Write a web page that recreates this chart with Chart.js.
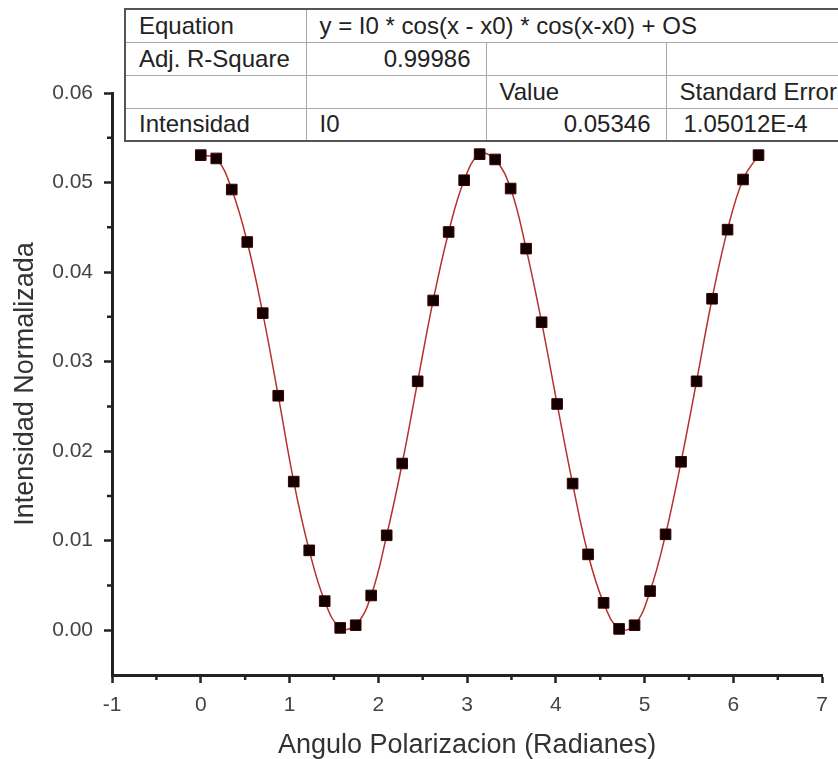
<!DOCTYPE html>
<html>
<head>
<meta charset="utf-8">
<script src="https://cdn.jsdelivr.net/npm/chart.js@4.4.1/dist/chart.umd.min.js"></script>
<style>
  html, body { margin: 0; padding: 0; background: #fff; overflow: hidden; }
  #wrap { position: relative; width: 838px; height: 759px; overflow: hidden; }
  #fitTable {
    position: absolute; left: 124px; top: 8px; width: 741px;
    border-collapse: collapse; table-layout: fixed;
    border: 2px solid #555; background: #fff;
    font-family: "Liberation Sans", Arial, sans-serif; font-size: 24px; color: #222;
  }
  #fitTable tr { height: 33px; }
  #fitTable td {
    border: 1px solid #a8a8a8; padding: 0 14px 0 13px;
    white-space: nowrap; overflow: hidden; line-height: 1;
  }
  #fitTable td.num { text-align: right; padding-right: 15px; }
</style>
</head>
<body>
<div id="wrap">
  <canvas id="myChart" width="838" height="759"></canvas>
  <table id="fitTable">
    <colgroup>
      <col style="width:181px"><col style="width:180px"><col style="width:180px"><col style="width:200px">
    </colgroup>
    <tr><td>Equation</td><td colspan="3">y = I0 * cos(x - x0) * cos(x-x0) + OS</td></tr>
    <tr><td>Adj. R-Square</td><td class="num">0.99986</td><td></td><td></td></tr>
    <tr><td></td><td></td><td>Value</td><td>Standard Error</td></tr>
    <tr><td>Intensidad</td><td>I0</td><td class="num">0.05346</td><td style="padding-left:17px">1.05012E-4</td></tr>
  </table>
</div>
<script>
// DATOS
const anguloRad = [
  0, 0.1745, 0.3491, 0.5236, 0.6981, 0.8727, 1.0472, 1.2217, 1.3963, 1.5708,
  1.7453, 1.9199, 2.0944, 2.2689, 2.4435, 2.618, 2.7925, 2.9671, 3.1416, 3.3161,
  3.4907, 3.6652, 3.8397, 4.0143, 4.1888, 4.3633, 4.5379, 4.7124, 4.8869, 5.0615,
  5.236, 5.4105, 5.5851, 5.7596, 5.9341, 6.1087, 6.2832
];
const intensidadNorm = [
  0.05306, 0.05269, 0.04922, 0.04336, 0.03541, 0.02619, 0.0166, 0.00892, 0.00325, 0.00026,
  0.00056, 0.00388, 0.0106, 0.01862, 0.0278, 0.03683, 0.04448, 0.05026, 0.05317, 0.05258,
  0.04933, 0.04262, 0.0344, 0.02527, 0.01638, 0.00847, 0.00306, 0.00015, 0.00056, 0.00437,
  0.01071, 0.01881, 0.0278, 0.03702, 0.04474, 0.05034, 0.05306
];
const minorTicksX = [-0.5, 0.5, 1.5, 2.5, 3.5, 4.5, 5.5, 6.5];
const minorTicksY = [0.005, 0.015, 0.025, 0.035, 0.045, 0.055];

const fontFamily = '"Liberation Sans", Arial, sans-serif';
Chart.defaults.font.family = fontFamily;

const points = anguloRad.map((x, i) => ({ x: x, y: intensidadNorm[i] }));

// TICKS MENORES DIBUJADOS CON LAS ESCALAS DEL GRAFICO
const minorTicks = {
  id: "minorTicks",
  afterDraw(chart) {
    const { ctx, chartArea, scales } = chart;
    ctx.save();
    ctx.strokeStyle = "#222";
    ctx.lineWidth = 2.5;
    ctx.beginPath();
    minorTicksX.forEach((v) => {
      const px = scales.x.getPixelForValue(v);
      ctx.moveTo(px, chartArea.bottom);
      ctx.lineTo(px, chartArea.bottom + 5);
    });
    minorTicksY.forEach((v) => {
      const py = scales.y.getPixelForValue(v);
      ctx.moveTo(chartArea.left, py);
      ctx.lineTo(chartArea.left - 5, py);
    });
    ctx.stroke();
    ctx.restore();
  },
};

const canvas = document.getElementById("myChart");
const myChart = new Chart(canvas, {
  type: "scatter",
  data: {
    datasets: [
      {
        label: "Intensidad",
        data: points,
        showLine: true,
        tension: 0.4,
        borderColor: "#b5312f",
        borderWidth: 1.5,
        pointStyle: "rect",
        pointRadius: 7.5,
        pointBackgroundColor: "#120000",
        pointBorderColor: "#3b0000",
        pointBorderWidth: 1,
      },
    ],
  },
  options: {
    responsive: false,
    animation: false,
    devicePixelRatio: 1,
    layout: { padding: { left: 0, right: 14, top: 93, bottom: 0 } },
    plugins: { legend: { display: false }, tooltip: { enabled: false } },
    scales: {
      x: {
        type: "linear",
        min: -1,
        max: 7,
        afterFit: (s) => { s.height = 84; },
        ticks: {
          stepSize: 1,
          autoSkip: false,
          maxRotation: 0,
          padding: 10,
          color: "#444",
          font: { size: 21 },
        },
        grid: { drawOnChartArea: false, tickLength: 8, tickWidth: 2.5, tickColor: "#222" },
        border: { color: "#222", width: 3 },
        title: {
          display: true,
          text: "Angulo Polarizacion (Radianes)",
          color: "#333",
          font: { size: 27, lineHeight: 1 },
          padding: { top: 0, bottom: 0 },
        },
      },
      y: {
        min: -0.005,
        max: 0.06,
        afterFit: (s) => { s.width = 112; },
        ticks: {
          stepSize: 0.01,
          includeBounds: false,
          padding: 11,
          color: "#444",
          font: { size: 21 },
          callback: (v) => v.toFixed(2),
        },
        grid: { drawOnChartArea: false, tickLength: 8, tickWidth: 2.5, tickColor: "#222" },
        border: { color: "#222", width: 3 },
        title: {
          display: true,
          text: "Intensidad Normalizada",
          color: "#333",
          font: { size: 27, lineHeight: 1 },
          padding: { top: 12, bottom: 0 },
        },
      },
    },
  },
  plugins: [minorTicks],
});
</script>
</body>
</html>
